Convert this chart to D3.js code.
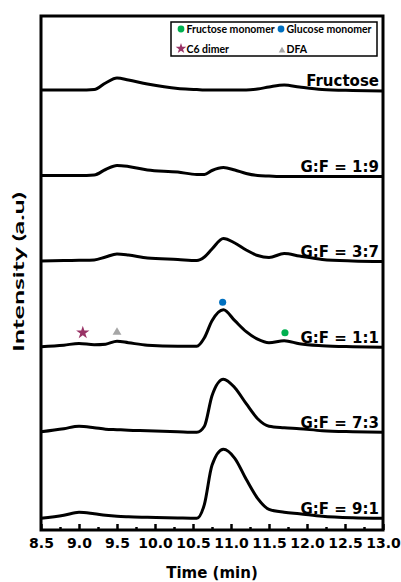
<!DOCTYPE html>
<html>
<head>
<meta charset="utf-8">
<script src="https://cdnjs.cloudflare.com/ajax/libs/d3/7.8.5/d3.min.js"></script>
<style>
  body { margin: 0; background: #fff; }
</style>
</head>
<body>
<svg id="chart" width="401" height="582"></svg>
<script>
'use strict';

// Retention time (min) sampled along every chromatogram.
var times = [8.5, 8.8, 9.0, 9.2, 9.35, 9.5, 9.65, 9.9, 10.3, 10.55, 10.65, 10.75,
             10.9, 11.05, 11.2, 11.35, 11.5, 11.7, 11.9, 12.2, 12.6, 13.0];

// Signal above each trace's own baseline (a.u.).
var fructose = [0, 0, 0, 0.5, 7, 12, 10, 6, 1.5, 0.5, 0, 0,
                0, 0, 0, 1, 3, 5, 3, 0.5, -0.5, -1];
var gf19     = [0, 0, 0, 0.5, 6, 10, 9, 5.5, 3.5, 1, 1, 5,
                8, 5.5, 2, 0, -0.5, -1, -1, -1, -1, -1];
var gf37     = [0, 0.5, 0.7, 1, 4, 7, 6, 3, 1.5, 0.5, 4, 12,
                22.5, 18, 11, 5.5, 3.5, 7.5, 5, 1.5, 0, -0.5];
var gf11     = [0, 1.5, 3.3, 2, 2.5, 5.5, 4, 1.5, 0.5, 0.5, 9, 26,
                37, 26, 15, 7.5, 4, 6, 3, 1, 0, -0.5];
var gf73     = [0, 3, 5.5, 4, 2.5, 2, 1.5, 1, 0, -0.5, 5.5, 36,
                52.5, 44, 28, 13, 5.5, 4, 3, 1, 0, -0.5];
var gf91     = [0, 3, 6, 4.5, 3, 2, 1.5, 1, 0.3, 0, 14, 53,
                69, 60, 39, 20, 9, 6, 4.5, 2, 0.5, 0];

var sampleNames = ['Fructose', 'G:F = 1:9', 'G:F = 3:7', 'G:F = 1:1', 'G:F = 7:3', 'G:F = 9:1'];
var sampleSignals = [fructose, gf19, gf37, gf11, gf73, gf91];
// Vertical stacking offset of each trace (a.u.).
var offsets = [440, 354.5, 269, 183.3, 98.3, 11.7];

// Peak markers, drawn over the G:F = 1:1 trace.
var markerTypes   = ['dimer', 'dfa', 'glucose', 'fructose'];
var markerTimes   = [9.05, 9.5, 10.89, 11.71];
var markerHeights = [14, 14.4, 44.4, 14];

var legendTypes  = ['fructose', 'glucose', 'dimer', 'dfa'];
var legendLabels = ['Fructose monomer', 'Glucose monomer', 'C6 dimer', 'DFA'];

var majorTicks = [8.5, 9.0, 9.5, 10.0, 10.5, 11.0, 11.5, 12.0, 12.5, 13.0];
var minorTicks = [8.75, 9.25, 9.75, 10.25, 10.75, 11.25, 11.75, 12.25, 12.75];

var markerColor = {
  fructose: '#00b050',
  glucose:  '#0070c0',
  dimer:    '#993366',
  dfa:      '#a6a6a6'
};

var margin = { top: 16, right: 18, bottom: 52, left: 41 },
    width  = 401 - margin.left - margin.right,
    height = 582 - margin.top - margin.bottom;

var svg = d3.select('#chart');
var g = svg.append('g')
    .attr('transform', 'translate(' + margin.left + ',' + margin.top + ')');

var x = d3.scaleLinear().domain([8.5, 13.0]).range([0, width]);
var y = d3.scaleLinear().domain([0, 514]).range([height, 0]);

function symbolFor(type) {
  if (type === 'dimer') return d3.symbol().type(d3.symbolStar).size(55);
  if (type === 'dfa') return d3.symbol().type(d3.symbolTriangle).size(34);
  return d3.symbol().type(d3.symbolCircle).size(40);
}

// Traces.
var line = d3.line()
    .x(function(d) { return x(d[0]); })
    .y(function(d) { return y(d[1]); })
    .curve(d3.curveMonotoneX);

sampleSignals.forEach(function(signal, i) {
  var pts = times.map(function(t, j) { return [t, signal[j] + offsets[i]]; });
  g.append('path')
      .attr('d', line(pts))
      .attr('fill', 'none')
      .attr('stroke', '#000')
      .attr('stroke-width', 3)
      .attr('stroke-linejoin', 'round');

  g.append('text')
      .attr('x', x(13.0) - 4)
      .attr('y', y(offsets[i] + 4))
      .attr('text-anchor', 'end')
      .style('font-family', '"DejaVu Sans", sans-serif')
      .style('font-weight', 'bold')
      .style('font-size', '15px')
      .text(sampleNames[i]);
});

// Markers on the 1:1 trace.
markerTypes.forEach(function(type, i) {
  g.append('path')
      .attr('d', symbolFor(type)())
      .attr('transform', 'translate(' + x(markerTimes[i]) + ',' + y(offsets[3] + markerHeights[i]) + ')')
      .attr('fill', markerColor[type]);
});

// Bottom axis: major and minor ticks point inward.
var axis = g.append('g')
    .attr('transform', 'translate(0,' + height + ')')
    .call(d3.axisBottom(x).tickValues(majorTicks).tickSize(-6).tickPadding(8)
      .tickFormat(d3.format('.1f')));
axis.select('.domain').remove();
axis.selectAll('line').attr('stroke', '#000').attr('stroke-width', 2.5);
axis.selectAll('text')
    .style('font-family', '"DejaVu Sans", sans-serif')
    .style('font-weight', 'bold')
    .style('font-size', '14px')
    .attr('fill', '#000');

var minor = g.append('g')
    .attr('transform', 'translate(0,' + height + ')')
    .call(d3.axisBottom(x).tickValues(minorTicks).tickSize(-3).tickFormat(''));
minor.select('.domain').remove();
minor.selectAll('line').attr('stroke', '#000').attr('stroke-width', 2.5);

// Frame.
g.append('rect')
    .attr('width', width)
    .attr('height', height)
    .attr('fill', 'none')
    .attr('stroke', '#000')
    .attr('stroke-width', 3);

// Legend.
var legend = g.append('g').attr('transform', 'translate(130,6)');
legend.append('rect')
    .attr('width', 206)
    .attr('height', 34)
    .attr('fill', '#fff')
    .attr('stroke', '#000')
    .attr('stroke-width', 1.5);

legendTypes.forEach(function(type, i) {
  var col = i % 2, row = Math.floor(i / 2);
  var item = legend.append('g')
      .attr('transform', 'translate(' + (10 + col * 100) + ',' + (7 + row * 19.5) + ')');
  item.append('path')
      .attr('d', symbolFor(type)())
      .attr('transform', type === 'dimer' ? 'scale(0.8)' : type === 'dfa' ? 'translate(1,2) scale(0.75)' : 'scale(0.95)')
      .attr('fill', markerColor[type]);
  item.append('text')
      .attr('x', 5.5)
      .attr('y', 4)
      .style('font-family', 'Lato, sans-serif')
      .style('font-weight', 'bold')
      .style('font-size', '10.5px')
      .text(legendLabels[i]);
});

// Axis titles.
svg.append('text')
    .attr('x', margin.left + width / 2)
    .attr('y', 578)
    .attr('text-anchor', 'middle')
    .style('font-family', '"DejaVu Sans", sans-serif')
    .style('font-weight', 'bold')
    .style('font-size', '15px')
    .text('Time (min)');

svg.append('text')
    .attr('transform', 'translate(24,272) rotate(-90)')
    .attr('text-anchor', 'middle')
    .attr('textLength', 160)
    .attr('lengthAdjust', 'spacingAndGlyphs')
    .style('font-family', 'Lato, sans-serif')
    .style('font-weight', 'bold')
    .style('font-size', '15px')
    .text('Intensity (a.u)');
</script>
</body>
</html>
